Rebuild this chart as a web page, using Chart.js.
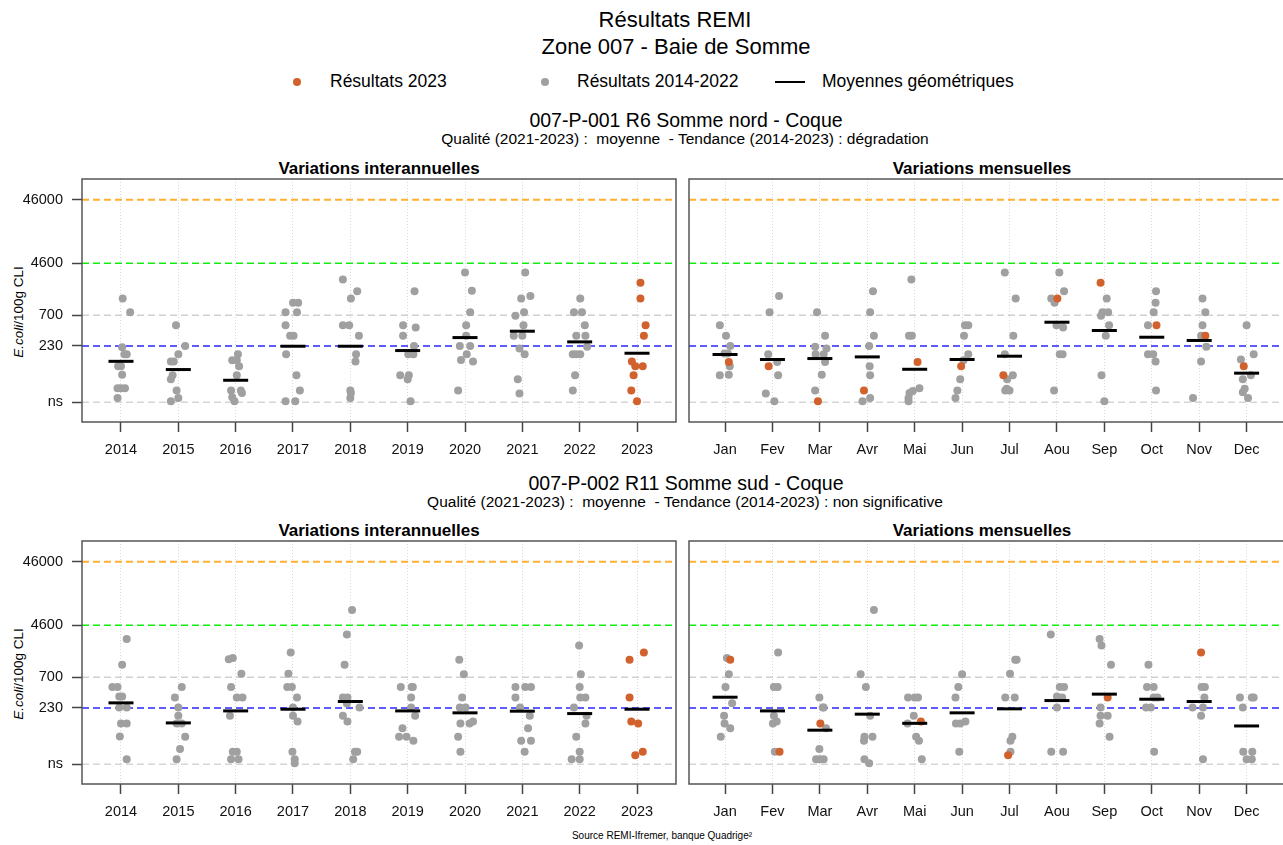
<!DOCTYPE html>
<html lang="fr">
<head>
  <meta charset="UTF-8" />
  <title>Résultats REMI - Zone 007 - Baie de Somme</title>
  <script src="https://cdn.jsdelivr.net/npm/chart.js"></script>
  <style>
    body {
      margin: 0;
      width: 1283px;
      height: 845px;
      overflow: hidden;
      position: relative;
      background: #fff;
      font-family: "Liberation Sans", Arial, sans-serif;
      color: #000;
    }
    .t {
      position: absolute;
      white-space: pre;
      transform: translate(-50%, -50%);
      line-height: 1;
    }
    .l {
      position: absolute;
      white-space: pre;
      transform: translateY(-50%);
      line-height: 1;
      font-size: 17.5px;
    }
    .dot {
      position: absolute;
      width: 8px;
      height: 8px;
      border-radius: 50%;
      transform: translate(-50%, -50%);
    }
    .ylab {
      position: absolute;
      font-size: 13.5px;
      white-space: pre;
      transform: translate(-50%, -50%) rotate(-90deg);
    }
    .panel-title { font-weight: bold; font-size: 17px; }
    canvas { position: absolute; }
  </style>
</head>
<body>
  <div class="t" style="left:675px; top:20px; font-size:22px;">Résultats REMI</div>
  <div class="t" style="left:676px; top:47px; font-size:22px;">Zone 007 - Baie de Somme</div>

  <div class="dot" style="left:297px; top:82px; background:#D2622D;"></div>
  <div class="l" style="left:330px; top:82px;">Résultats 2023</div>
  <div class="dot" style="left:545px; top:82px; background:#A0A0A0;"></div>
  <div class="l" style="left:577px; top:82px;">Résultats 2014-2022</div>
  <div style="position:absolute; left:775px; top:81px; width:30px; height:1.5px; background:#000;"></div>
  <div class="l" style="left:822px; top:82px;">Moyennes géométriques</div>

  <div class="t" style="left:686px; top:121px; font-size:19.5px;">007-P-001 R6 Somme nord - Coque</div>
  <div class="t" style="left:685px; top:139px; font-size:15.5px;">Qualité (2021-2023) :  moyenne  - Tendance (2014-2023) : dégradation</div>
  <div class="t panel-title" style="left:379px; top:168px;">Variations interannuelles</div>
  <div class="t panel-title" style="left:982px; top:168px;">Variations mensuelles</div>
  <div class="ylab" style="left:18px; top:312px;"><i>E.coli</i>/100g CLI</div>

  <div class="t" style="left:686px; top:484px; font-size:19.5px;">007-P-002 R11 Somme sud - Coque</div>
  <div class="t" style="left:685px; top:502px; font-size:15.5px;">Qualité (2021-2023) :  moyenne  - Tendance (2014-2023) : non significative</div>
  <div class="t panel-title" style="left:379px; top:530px;">Variations interannuelles</div>
  <div class="t panel-title" style="left:982px; top:530px;">Variations mensuelles</div>
  <div class="ylab" style="left:18px; top:674px;"><i>E.coli</i>/100g CLI</div>

  <div class="t" style="left:662px; top:836px; font-size:10px;">Source REMI-Ifremer, banque Quadrige²</div>

  <canvas id="p1Year" width="690" height="300" style="left:0px; top:170px;"></canvas>
  <canvas id="p1Month" width="610" height="300" style="left:680px; top:170px;"></canvas>
  <canvas id="p2Year" width="690" height="300" style="left:0px; top:532px;"></canvas>
  <canvas id="p2Month" width="610" height="300" style="left:680px; top:532px;"></canvas>

  <script>
    // categories and axis ticks
    const years = ['2014', '2015', '2016', '2017', '2018', '2019', '2020', '2021', '2022', '2023'];
    const months = ['Jan', 'Fev', 'Mar', 'Avr', 'Mai', 'Jun', 'Jul', 'Aou', 'Sep', 'Oct', 'Nov', 'Dec'];
    const yTickValues = [30, 230, 700, 4600, 46000];
    const yTickLabels = ['ns', '230', '700', '4600', '46000'];
    const seuilValues = [46000, 4600, 700, 230, 30];

    // 007-P-001 : résultats par année (E.coli/100g CLI) et décalage horizontal
    const p1YearValues = [
      [1285, 783, 220, 171, 171, 110, 110, 81, 50, 50, 50, 35],
      [489, 231, 171, 131, 131, 80, 69, 46, 35, 31],
      [171, 137, 137, 110, 80, 46, 46, 42, 36, 31],
      [1099, 1099, 783, 783, 489, 332, 332, 171, 80, 46, 31, 31],
      [2559, 1674, 1285, 489, 489, 332, 171, 131, 46, 42, 35],
      [1674, 489, 449, 332, 231, 171, 171, 80, 80, 69, 31],
      [3296, 1698, 783, 489, 332, 231, 231, 171, 139, 131, 46],
      [3296, 1400, 1285, 783, 685, 489, 332, 332, 210, 171, 69, 41],
      [1285, 783, 783, 489, 332, 332, 223, 171, 171, 171, 80, 46],
      [2270, 1285, 489, 332, 131, 110, 110, 80, 46, 31]
    ];
    const p1YearJitter = [
      [0.03, 0.16, 0.02, 0.10, 0.06, -0.05, 0.00, 0.02, -0.06, 0.00, 0.07, -0.06],
      [-0.04, 0.12, 0.00, -0.13, -0.08, -0.10, -0.13, -0.03, 0.00, -0.13],
      [0.04, -0.06, 0.02, 0.06, 0.02, -0.08, 0.09, 0.11, -0.06, -0.02],
      [0.00, 0.09, -0.13, 0.07, -0.13, -0.05, 0.01, -0.12, 0.06, 0.12, -0.13, 0.04],
      [-0.13, 0.12, 0.01, -0.13, -0.02, 0.15, 0.10, 0.09, 0.00, 0.01, 0.00],
      [0.12, -0.08, 0.14, -0.08, 0.11, 0.01, 0.10, -0.13, 0.02, 0.00, 0.05],
      [0.00, 0.12, 0.09, 0.02, 0.02, -0.09, 0.09, 0.03, -0.07, 0.14, -0.12],
      [0.05, 0.14, -0.02, 0.03, -0.12, 0.02, -0.15, 0.00, -0.05, 0.04, -0.08, -0.05],
      [0.01, -0.10, 0.04, 0.09, -0.06, 0.10, 0.13, -0.12, -0.06, 0.01, -0.08, -0.12],
      [0.06, 0.06, 0.15, 0.12, -0.09, -0.03, 0.10, -0.06, -0.10, 0.00]
    ];
    const p1YearMeans = [132, 98, 66.5, 228, 228, 195, 312, 393, 267, 177];

    // 007-P-001 : résultats par mois, 2014-2022 puis 2023
    const p1MonthValues = [
      [489, 332, 231, 175, 175, 110, 80, 81],
      [1400, 783, 171, 129, 80, 41, 31],
      [783, 332, 223, 210, 171, 171, 129, 81, 46],
      [1674, 783, 332, 231, 110, 80, 35, 31],
      [2559, 332, 332, 50, 45, 42, 35, 31],
      [489, 489, 332, 171, 137, 69, 46, 35],
      [3296, 1285, 332, 171, 80, 69, 49, 46, 46],
      [3296, 1674, 1285, 1099, 489, 449, 171, 171, 46],
      [1285, 783, 783, 685, 489, 332, 80, 31],
      [1674, 1099, 783, 489, 171, 171, 131, 46],
      [1285, 783, 489, 332, 223, 131, 35],
      [489, 171, 141, 80, 69, 49, 43, 35]
    ];
    const p1MonthJitter = [
      [-0.11, 0.02, 0.11, -0.01, 0.06, 0.10, -0.11, 0.08],
      [0.14, -0.06, -0.09, 0.10, 0.12, -0.14, 0.04],
      [-0.06, 0.11, -0.10, 0.14, -0.09, 0.08, 0.11, 0.04, -0.10],
      [0.12, 0.06, 0.14, 0.04, 0.05, 0.06, 0.06, -0.10],
      [-0.07, -0.12, -0.06, 0.10, -0.04, -0.11, -0.13, -0.13],
      [0.06, 0.13, 0.04, 0.13, 0.03, -0.04, -0.10, -0.14],
      [-0.10, 0.13, 0.08, -0.10, 0.07, -0.05, -0.06, -0.09, 0.00],
      [0.05, 0.15, -0.12, -0.05, -0.01, 0.13, 0.06, 0.12, -0.06],
      [0.05, -0.04, 0.08, -0.07, 0.10, 0.03, -0.06, 0.00],
      [0.09, 0.08, 0.04, -0.08, -0.08, 0.03, 0.08, 0.09],
      [0.07, 0.13, 0.07, 0.04, 0.15, 0.04, -0.13],
      [0.00, 0.15, -0.12, 0.09, -0.08, -0.04, -0.08, 0.03]
    ];
    const p1Month2023Values = [[129], [110], [31], [46], [129], [110], [80], [1285], [2270], [489], [332], [110]];
    const p1Month2023Jitter = [[0.08], [-0.08], [-0.04], [-0.07], [0.06], [-0.02], [-0.13], [0.01], [-0.08], [0.10], [0.13], [-0.06]];
    const p1MonthMeans = [169, 141, 146, 155, 99, 141, 159, 544, 403, 316, 281, 86];

    // 007-P-002 : résultats par année
    const p2YearValues = [
      [2786, 1099, 494, 494, 348, 348, 234, 234, 131, 131, 82, 36],
      [494, 336, 234, 173, 131, 131, 81, 52, 36],
      [1400, 1350, 793, 494, 336, 336, 173, 47, 47, 36, 36],
      [1718, 793, 494, 494, 336, 234, 173, 141, 47, 36, 31],
      [7980, 3296, 1099, 336, 336, 270, 234, 173, 141, 47, 47, 36],
      [494, 494, 494, 336, 234, 173, 110, 81, 81, 70],
      [1316, 783, 336, 234, 234, 141, 131, 131, 81, 47],
      [494, 494, 494, 336, 234, 173, 110, 70, 70, 47],
      [2213, 783, 494, 336, 336, 234, 173, 131, 81, 47, 36, 36],
      [1718, 1316, 336, 141, 131, 47, 41.5]
    ];
    const p2YearJitter = [
      [0.10, 0.02, -0.15, -0.06, -0.03, 0.02, -0.03, 0.10, 0.00, 0.10, -0.02, 0.10],
      [0.06, -0.06, 0.00, 0.00, -0.03, 0.06, 0.12, 0.03, -0.03],
      [-0.05, -0.12, 0.10, -0.08, 0.02, 0.12, -0.10, -0.05, 0.02, -0.08, 0.05],
      [-0.04, -0.08, -0.10, -0.02, 0.07, 0.00, 0.00, 0.08, -0.01, 0.03, 0.03],
      [0.03, -0.06, -0.10, -0.13, -0.05, -0.06, 0.16, -0.13, -0.05, 0.08, 0.12, 0.05],
      [-0.12, 0.07, 0.09, 0.06, 0.06, 0.13, -0.09, -0.15, -0.02, 0.10],
      [-0.10, -0.02, -0.05, -0.09, 0.01, 0.14, -0.08, 0.08, -0.12, -0.08],
      [-0.12, 0.05, 0.15, -0.12, -0.04, 0.13, 0.10, -0.02, 0.15, 0.04],
      [-0.01, 0.02, 0.00, 0.01, 0.10, -0.10, 0.12, 0.10, -0.06, 0.00, -0.14, 0.00],
      [0.12, -0.13, -0.13, -0.10, 0.02, 0.10, -0.03]
    ];
    const p2YearMeans = [277, 134, 207, 220, 291, 207, 193, 205, 188, 220];

    // 007-P-002 : résultats par mois
    const p2MonthValues = [
      [1400, 783, 494, 273, 173, 131, 110, 81],
      [1718, 494, 494, 173, 141, 131, 47],
      [336, 234, 234, 110, 52, 36, 36, 36],
      [7980, 783, 494, 173, 81, 81, 70, 36, 31],
      [336, 336, 336, 173, 131, 81, 70, 36],
      [783, 494, 336, 141, 131, 131, 47],
      [1316, 1316, 793, 336, 336, 81, 70, 47],
      [3296, 494, 494, 348, 336, 234, 47, 47],
      [2786, 2213, 1099, 234, 173, 173, 131, 81],
      [1099, 494, 494, 336, 336, 234, 234, 47],
      [494, 494, 336, 234, 234, 173, 36],
      [336, 336, 336, 234, 47, 47, 36, 36]
    ];
    const p2MonthJitter = [
      [0.04, 0.08, 0.01, 0.15, -0.02, -0.01, 0.11, -0.09],
      [0.12, 0.03, 0.11, 0.03, 0.09, 0.01, 0.05],
      [-0.01, 0.06, 0.08, 0.13, -0.01, -0.08, 0.00, 0.08],
      [0.14, -0.14, -0.03, 0.06, 0.11, -0.06, -0.07, -0.06, 0.04],
      [-0.14, 0.00, 0.07, -0.02, -0.15, 0.03, 0.09, 0.15],
      [0.00, -0.08, -0.14, 0.07, -0.13, -0.04, -0.06],
      [0.12, 0.15, 0.01, -0.09, 0.11, 0.06, 0.02, 0.02],
      [-0.13, 0.06, 0.15, 0.00, 0.11, 0.00, -0.12, 0.13],
      [-0.10, -0.06, 0.14, -0.08, -0.08, 0.07, -0.10, 0.11],
      [-0.07, -0.10, 0.04, 0.04, 0.12, -0.12, -0.02, 0.05],
      [0.05, 0.12, 0.11, -0.14, 0.08, 0.04, 0.08],
      [-0.14, 0.11, 0.15, -0.08, -0.07, 0.12, 0.00, 0.11]
    ];
    const p2Month2023Values = [[1316], [47], [131], [], [141], [], [41.5], [], [336], [], [1718], []];
    const p2Month2023Jitter = [[0.11], [0.15], [0.01], [], [0.13], [], [-0.03], [], [0.07], [], [0.04], []];
    const p2MonthMeans = [340, 207, 103, 184, 132, 193, 223, 301, 380, 316, 291, 120];

    const ORANGE = '#D2622D';
    const GRAY = '#A0A0A0';
    const seuilColors = ['#FFB030', '#10EE10', '#D0D0D0', '#2828FF', '#D6D6D6'];
    const seuilWidths = [2, 1.5, 1.5, 1.5, 1.5];
    const FONT = '"Liberation Sans", Arial, sans-serif';

    Chart.defaults.font.family = FONT;

    function toPoints(values, jitter, keep) {
      const pts = [];
      values.forEach((list, i) => {
        if (!keep(i)) return;
        list.forEach((v, k) => pts.push({ x: i + jitter[i][k], y: v }));
      });
      return pts;
    }

    // cadre autour de la zone de tracé
    const boxPlugin = {
      id: 'box',
      afterDatasetsDraw(chart) {
        const { ctx, chartArea: a } = chart;
        ctx.save();
        ctx.strokeStyle = '#555';
        ctx.lineWidth = 1.5;
        ctx.strokeRect(a.left, a.top, a.right - a.left, a.bottom - a.top);
        ctx.restore();
      }
    };

    function makePanel(id, cats, gray, orange, means, isLeft) {
      const xMin = isLeft ? -0.68 : -0.76;
      const xMax = cats.length - 1 + (isLeft ? 0.68 : 0.81);

      const seuilSets = seuilValues.map((v, i) => ({
        data: [{ x: xMin, y: v }, { x: xMax, y: v }],
        showLine: true,
        borderColor: seuilColors[i],
        borderWidth: seuilWidths[i],
        borderDash: [7, 4],
        pointRadius: 0,
        order: 3
      }));

      return new Chart(document.getElementById(id), {
        type: 'scatter',
        data: {
          datasets: [
            {
              data: means.map((m, i) => ({ x: i, y: m })),
              pointStyle: 'line',
              pointRadius: 12.5,
              borderColor: '#000',
              borderWidth: 3,
              order: 0
            },
            { data: orange, backgroundColor: ORANGE, borderWidth: 0, pointRadius: 4, order: 1 },
            { data: gray, backgroundColor: GRAY, borderWidth: 0, pointRadius: 4, order: 2 },
            ...seuilSets
          ]
        },
        options: {
          responsive: false,
          animation: false,
          layout: { autoPadding: false, padding: { top: 9, right: isLeft ? 14 : 5, bottom: 0, left: 0 } },
          plugins: { legend: { display: false }, tooltip: { enabled: false }, title: { display: false } },
          events: [],
          scales: {
            x: {
              type: 'linear',
              min: xMin,
              max: xMax,
              bounds: 'data',
              afterBuildTicks: s => { s.ticks = cats.map((c, i) => ({ value: i })); },
              afterFit: s => { s.height = 48; s.paddingLeft = 0; s.paddingRight = 0; },
              ticks: {
                autoSkip: false,
                maxRotation: 0,
                padding: 9,
                color: '#111',
                font: { size: 14.5 },
                callback: v => cats[v]
              },
              grid: {
                color: '#D8D8D8',
                lineWidth: 1,
                tickLength: 10,
                tickColor: '#444',
                tickWidth: 1.5,
                tickBorderDash: []
              },
              border: { display: false, dash: [1, 2] }
            },
            y: {
              type: 'logarithmic',
              min: 14.67,
              max: 97300,
              bounds: 'data',
              afterBuildTicks: s => { s.ticks = yTickValues.map(v => ({ value: v })); },
              afterFit: s => { s.width = isLeft ? 82 : 9; s.paddingTop = 0; s.paddingBottom = 0; },
              ticks: {
                display: isLeft,
                padding: 9,
                color: '#111',
                font: { size: 14.5 },
                callback: v => {
                  const k = yTickValues.indexOf(v);
                  return k >= 0 ? yTickLabels[k] : '';
                }
              },
              grid: {
                display: isLeft,
                drawOnChartArea: false,
                tickLength: 10,
                tickColor: '#444',
                tickWidth: 1.5
              },
              border: { display: false }
            }
          }
        },
        plugins: [boxPlugin]
      });
    }

    const is2023 = i => years[i] === '2023';
    const notIs2023 = i => years[i] !== '2023';
    const all = () => true;

    makePanel('p1Year', years,
      toPoints(p1YearValues, p1YearJitter, notIs2023),
      toPoints(p1YearValues, p1YearJitter, is2023),
      p1YearMeans, true);
    makePanel('p1Month', months,
      toPoints(p1MonthValues, p1MonthJitter, all),
      toPoints(p1Month2023Values, p1Month2023Jitter, all),
      p1MonthMeans, false);
    makePanel('p2Year', years,
      toPoints(p2YearValues, p2YearJitter, notIs2023),
      toPoints(p2YearValues, p2YearJitter, is2023),
      p2YearMeans, true);
    makePanel('p2Month', months,
      toPoints(p2MonthValues, p2MonthJitter, all),
      toPoints(p2Month2023Values, p2Month2023Jitter, all),
      p2MonthMeans, false);
  </script>
</body>
</html>
